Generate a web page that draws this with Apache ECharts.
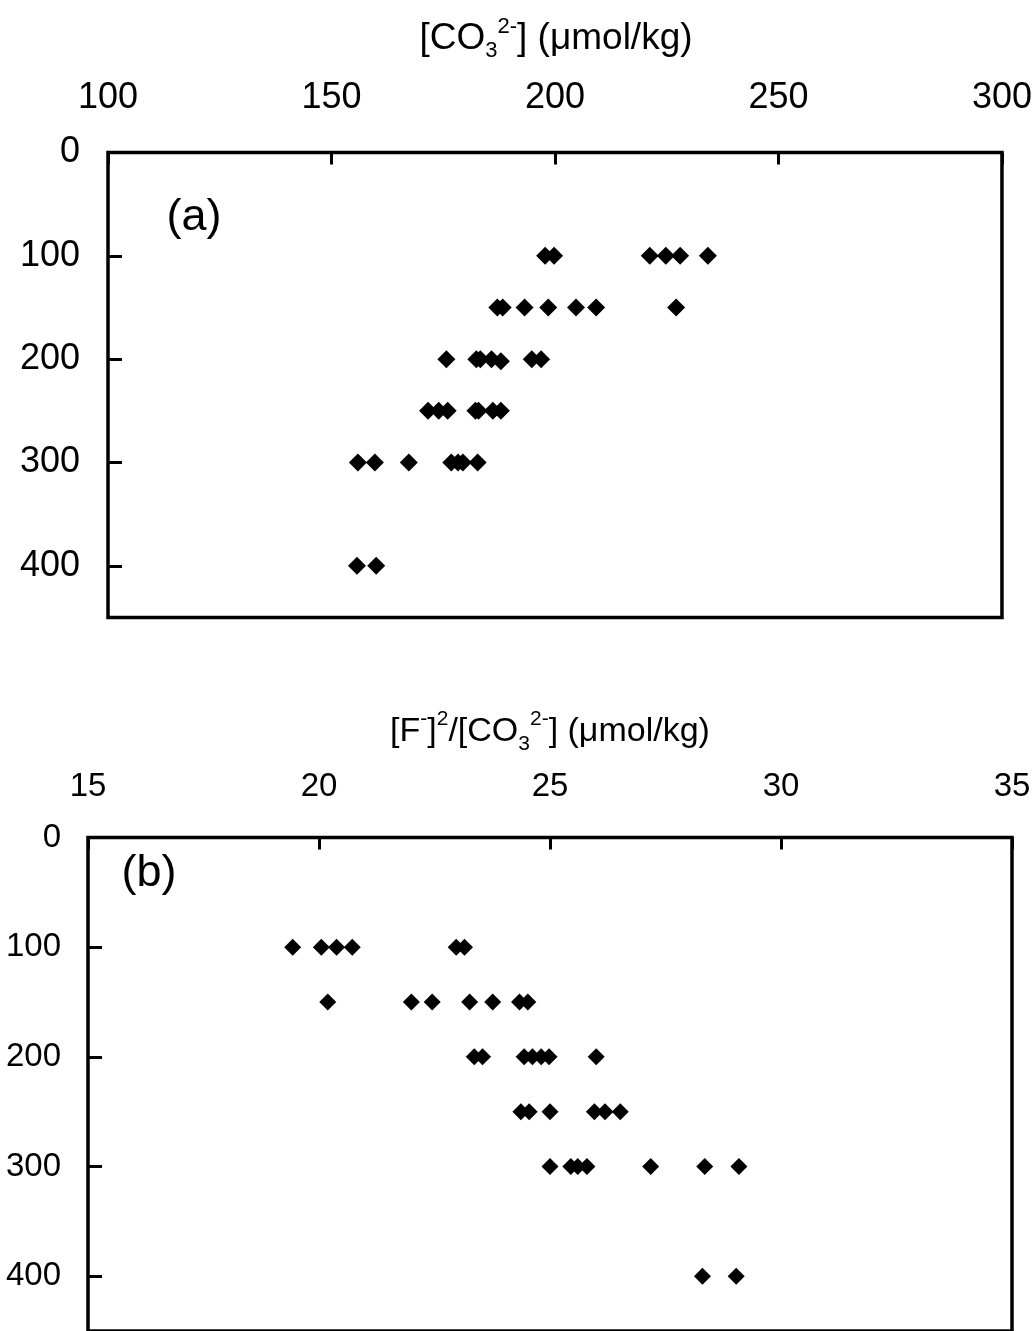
<!DOCTYPE html>
<html>
<head>
<meta charset="utf-8">
<script src="https://cdn.jsdelivr.net/npm/echarts@6/dist/echarts.min.js"></script>
<style>
  html, body { margin: 0; padding: 0; background: #fff; }
  #chart { width: 1035px; height: 1331px; }
</style>
</head>
<body>
<div id="chart"></div>
<script>
// Panel (a): carbonate ion concentration vs depth
const depthA = [100, 100, 100, 100, 100, 100,
                150, 150, 150, 150, 150, 150, 150,
                200, 200, 200, 200, 202, 200, 200,
                250, 250, 250, 250, 250, 250, 250,
                300, 300, 300, 300, 300, 300, 300,
                400, 400];
const co3A = [197.8, 199.8, 221.2, 224.8, 228.0, 234.2,
              187.1, 188.3, 193.2, 198.5, 204.7, 209.2, 227.1,
              175.7, 182.4, 183.3, 185.8, 187.9, 194.8, 196.9,
              171.6, 174.0, 176.0, 182.2, 182.9, 186.1, 187.9,
              155.9, 159.7, 167.3, 176.8, 178.3, 179.4, 182.7,
              155.7, 160.0];

// Panel (b): [F-]^2/[CO3 2-] vs depth
const depthB = [100, 100, 100, 100, 100, 100,
                150, 150, 150, 150, 150, 150, 150,
                200, 200, 200, 200, 200, 200, 200,
                250, 250, 250, 250, 250, 250,
                300, 300, 300, 300, 300, 300, 300,
                400, 400];
const ratioB = [19.43, 20.05, 20.38, 20.72, 22.97, 23.15,
                20.19, 22.0, 22.45, 23.26, 23.76, 24.34, 24.52,
                23.36, 23.54, 24.44, 24.62, 24.81, 24.98, 26.0,
                24.37, 24.55, 25.0, 25.96, 26.19, 26.52,
                25.0, 25.45, 25.6, 25.8, 27.18, 28.35, 29.09,
                28.3, 29.03];

const xTicksA = [100, 300, 50];   // min, max, interval
const xTicksB = [15, 35, 5];
const depthRange = [0, 450, 100];

const FONT = '"Liberation Sans", Arial, Helvetica, sans-serif';

function pairs(xs, ys) { return xs.map((x, i) => [x, ys[i]]); }

function titleRich(size, subSize) {
  const base = { fontFamily: FONT, color: '#000', fontWeight: 'normal' };
  return {
    m: Object.assign({ fontSize: size, lineHeight: 46 }, base),
    sub: Object.assign({ fontSize: subSize, verticalAlign: 'bottom', lineHeight: subSize }, base),
    sup: Object.assign({ fontSize: subSize, verticalAlign: 'top', lineHeight: subSize }, base)
  };
}

function xAxisOf(grid, ext, fontSize, margin) {
  return {
    type: 'value', gridIndex: grid, position: 'top',
    min: ext[0], max: ext[1], interval: ext[2],
    axisLine: { show: false },
    axisTick: { show: true, inside: true, length: 12, lineStyle: { color: '#000', width: 3 } },
    axisLabel: { color: '#000', fontSize: fontSize, fontFamily: FONT, margin: margin },
    splitLine: { show: false }
  };
}

function yAxisOf(grid, fontSize, margin) {
  return {
    type: 'value', gridIndex: grid, inverse: true,
    min: depthRange[0], max: depthRange[1], interval: depthRange[2],
    axisLine: { show: false },
    axisTick: { show: true, inside: true, length: 14, lineStyle: { color: '#000', width: 3 } },
    axisLabel: { color: '#000', fontSize: fontSize, fontFamily: FONT, margin: margin, showMaxLabel: false },
    splitLine: { show: false }
  };
}

const chart = echarts.init(document.getElementById('chart'), null, { renderer: 'canvas' });

chart.setOption({
  backgroundColor: '#fff',
  animation: false,
  title: [
    {
      text: '{m|[CO}{sub|3}{sup|2-}{m|] (μmol/kg)}',
      left: 551, top: 11, textAlign: 'center',
      textStyle: { fontWeight: 'normal', rich: titleRich(37, 22) }
    },
    {
      text: '{m|[F}{sup|-}{m|]}{sup|2}{m|/[CO}{sub|3}{sup|2-}{m|] (μmol/kg)}',
      left: 545, top: 704, textAlign: 'center',
      textStyle: { fontWeight: 'normal', rich: titleRich(34, 21) }
    }
  ],
  grid: [
    { left: 108, top: 152.5, width: 895, height: 465, show: true, borderColor: '#000', borderWidth: 3.5, backgroundColor: 'transparent' },
    { left: 88, top: 837.5, width: 924, height: 497, show: true, borderColor: '#000', borderWidth: 3.5, backgroundColor: 'transparent' }
  ],
  xAxis: [ xAxisOf(0, xTicksA, 36, 36), xAxisOf(1, xTicksB, 33, 34) ],
  yAxis: [ yAxisOf(0, 36, 28), yAxisOf(1, 33, 27) ],
  series: [
    {
      type: 'scatter', xAxisIndex: 0, yAxisIndex: 0,
      symbol: 'diamond', symbolSize: 18,
      itemStyle: { color: '#000', opacity: 1 },
      data: pairs(co3A, depthA)
    },
    {
      type: 'scatter', xAxisIndex: 1, yAxisIndex: 1,
      symbol: 'diamond', symbolSize: 17,
      itemStyle: { color: '#000', opacity: 1 },
      data: pairs(ratioB, depthB)
    }
  ],
  graphic: [
    { type: 'text', x: 194, y: 218, style: { text: '(a)', fontSize: 45, fontFamily: FONT, fill: '#000', align: 'center', verticalAlign: 'middle' } },
    { type: 'text', x: 149, y: 874, style: { text: '(b)', fontSize: 45, fontFamily: FONT, fill: '#000', align: 'center', verticalAlign: 'middle' } }
  ]
});
</script>
</body>
</html>
